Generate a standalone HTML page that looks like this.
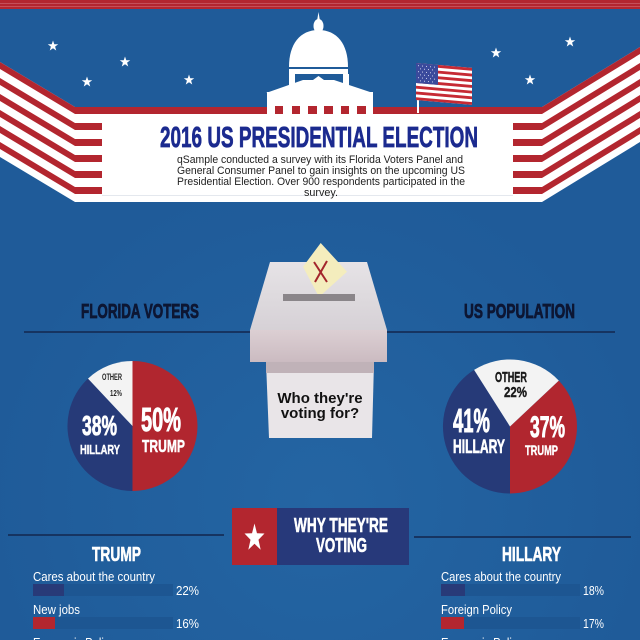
<!DOCTYPE html>
<html><head><meta charset="utf-8"><style>
html,body{margin:0;padding:0;background:#1f5c9a;}
svg{display:block;}
text{font-family:"Liberation Sans",sans-serif;}
</style></head><body>
<svg width="640" height="640" viewBox="0 0 640 640" xmlns="http://www.w3.org/2000/svg">
<defs>
<radialGradient id="bg" cx="320" cy="500" r="330" gradientUnits="userSpaceOnUse">
<stop offset="0" stop-color="#2465a3"/><stop offset="1" stop-color="#1f5b99"/>
</radialGradient>
<linearGradient id="lid" x1="0" y1="0" x2="0" y2="1"><stop offset="0" stop-color="#e6e3e6"/><stop offset="1" stop-color="#d6d1d6"/></linearGradient>
<linearGradient id="front" x1="0" y1="0" x2="0" y2="1"><stop offset="0" stop-color="#dccfd3"/><stop offset="1" stop-color="#cbbbc1"/></linearGradient>
</defs>
<rect width="640" height="640" fill="url(#bg)"/>
<!-- top red band -->
<rect x="0" y="0" width="640" height="9" fill="#b3262f"/>
<rect x="0" y="3" width="640" height="1" fill="#c4505a"/>
<rect x="0" y="6" width="640" height="1" fill="#c4505a"/>
<!-- stars -->
<g fill="#fff">
<polygon transform="translate(53,46) scale(5.5)" points="0,-1 0.235,-0.324 0.951,-0.309 0.38,0.124 0.588,0.809 0,0.4 -0.588,0.809 -0.38,0.124 -0.951,-0.309 -0.235,-0.324"/>
<polygon transform="translate(87,82) scale(5.5)" points="0,-1 0.235,-0.324 0.951,-0.309 0.38,0.124 0.588,0.809 0,0.4 -0.588,0.809 -0.38,0.124 -0.951,-0.309 -0.235,-0.324"/>
<polygon transform="translate(125,62) scale(5.5)" points="0,-1 0.235,-0.324 0.951,-0.309 0.38,0.124 0.588,0.809 0,0.4 -0.588,0.809 -0.38,0.124 -0.951,-0.309 -0.235,-0.324"/>
<polygon transform="translate(189,80) scale(5.5)" points="0,-1 0.235,-0.324 0.951,-0.309 0.38,0.124 0.588,0.809 0,0.4 -0.588,0.809 -0.38,0.124 -0.951,-0.309 -0.235,-0.324"/>
<polygon transform="translate(496,53) scale(5.5)" points="0,-1 0.235,-0.324 0.951,-0.309 0.38,0.124 0.588,0.809 0,0.4 -0.588,0.809 -0.38,0.124 -0.951,-0.309 -0.235,-0.324"/>
<polygon transform="translate(530,80) scale(5.5)" points="0,-1 0.235,-0.324 0.951,-0.309 0.38,0.124 0.588,0.809 0,0.4 -0.588,0.809 -0.38,0.124 -0.951,-0.309 -0.235,-0.324"/>
<polygon transform="translate(570,42) scale(5.5)" points="0,-1 0.235,-0.324 0.951,-0.309 0.38,0.124 0.588,0.809 0,0.4 -0.588,0.809 -0.38,0.124 -0.951,-0.309 -0.235,-0.324"/>
</g>
<!-- banner -->
<polygon fill="#ffffff" points="0,62 75,107 542,107 640,47 640,142 542,202 75,202 0,157"/>
<rect x="102" y="195" width="411" height="1" fill="#e4e8ee"/>
<g fill="#b3262f">
<polygon points="0,62 75,107 542,107 640,47 640,54 542,114 75,114 0,69"/>
<polygon points="0,78 75,123 102,123 102,130 75,130 0,85"/>
<polygon points="0,94 75,139 102,139 102,146 75,146 0,101"/>
<polygon points="0,110 75,155 102,155 102,162 75,162 0,117"/>
<polygon points="0,126 75,171 102,171 102,178 75,178 0,133"/>
<polygon points="0,142 75,187 102,187 102,194 75,194 0,149"/>
<polygon points="513,123 542,123 640,63 640,70 542,130 513,130"/>
<polygon points="513,139 542,139 640,79 640,86 542,146 513,146"/>
<polygon points="513,155 542,155 640,95 640,102 542,162 513,162"/>
<polygon points="513,171 542,171 640,111 640,118 542,178 513,178"/>
<polygon points="513,187 542,187 640,127 640,134 542,194 513,194"/>
</g>
<!-- capitol -->
<g fill="#ffffff">
<polygon points="318.5,12 320,21 317,21"/>
<ellipse cx="318.5" cy="26" rx="5" ry="7"/>
<path d="M289,67 C289,44 300,30 318.5,30 C337,30 348,44 348,67 Z"/>
<rect x="289" y="69" width="59" height="5"/>
<rect x="289" y="74" width="6" height="14"/>
<rect x="343" y="74" width="6" height="14"/>
<polygon points="318.5,76 324,80 334,80 373,93 266,93 303,80 313,80"/>
<rect x="267" y="92" width="106" height="22"/>
</g>
<g fill="#b3262f">
<rect x="275" y="106" width="8" height="8"/><rect x="292" y="106" width="8" height="8"/>
<rect x="308" y="106" width="9" height="8"/><rect x="324" y="106" width="9" height="8"/>
<rect x="341" y="106" width="8" height="8"/><rect x="357" y="106" width="9" height="8"/>
</g>
<!-- flag -->
<rect x="417" y="63" width="2" height="50" fill="#fff"/>
<g transform="translate(416,63) skewY(5)">
<rect x="0" y="0" width="56" height="37" fill="#fff"/>
<g fill="#c62a34">
<rect x="0" y="0" width="56" height="2.85"/><rect x="0" y="5.7" width="56" height="2.85"/>
<rect x="0" y="11.4" width="56" height="2.85"/><rect x="0" y="17.1" width="56" height="2.85"/>
<rect x="0" y="22.8" width="56" height="2.85"/><rect x="0" y="28.5" width="56" height="2.85"/>
<rect x="0" y="34.2" width="56" height="2.8"/>
</g>
<rect x="0" y="0" width="22" height="20" fill="#3a4a9c"/>
<g fill="#c8cde8">
<rect x="2" y="2" width="1" height="1"/><rect x="6" y="2" width="1" height="1"/><rect x="10" y="2" width="1" height="1"/><rect x="14" y="2" width="1" height="1"/><rect x="18" y="2" width="1" height="1"/>
<rect x="4" y="5" width="1" height="1"/><rect x="8" y="5" width="1" height="1"/><rect x="12" y="5" width="1" height="1"/><rect x="16" y="5" width="1" height="1"/>
<rect x="2" y="8" width="1" height="1"/><rect x="6" y="8" width="1" height="1"/><rect x="10" y="8" width="1" height="1"/><rect x="14" y="8" width="1" height="1"/><rect x="18" y="8" width="1" height="1"/>
<rect x="4" y="11" width="1" height="1"/><rect x="8" y="11" width="1" height="1"/><rect x="12" y="11" width="1" height="1"/><rect x="16" y="11" width="1" height="1"/>
<rect x="2" y="14" width="1" height="1"/><rect x="6" y="14" width="1" height="1"/><rect x="10" y="14" width="1" height="1"/><rect x="14" y="14" width="1" height="1"/><rect x="18" y="14" width="1" height="1"/>
<rect x="4" y="17" width="1" height="1"/><rect x="8" y="17" width="1" height="1"/><rect x="12" y="17" width="1" height="1"/><rect x="16" y="17" width="1" height="1"/>
</g>
</g>
<!-- title -->
<text x="160" y="147" font-size="29" font-weight="bold" fill="#1b2a8f" stroke="#1b2a8f" stroke-width="0.7" textLength="318" lengthAdjust="spacingAndGlyphs">2016 US PRESIDENTIAL ELECTION</text>
<g font-size="11" fill="#1e1e1e">
<text x="177" y="163" textLength="286" lengthAdjust="spacingAndGlyphs">qSample conducted a survey with its Florida Voters Panel and</text>
<text x="177" y="174" textLength="288" lengthAdjust="spacingAndGlyphs">General Consumer Panel to gain insights on the upcoming US</text>
<text x="177" y="185" textLength="288" lengthAdjust="spacingAndGlyphs">Presidential Election. Over 900 respondents participated in the</text>
<text x="304" y="196" textLength="34" lengthAdjust="spacingAndGlyphs">survey.</text>
</g>
<!-- middle section headings -->
<rect x="24" y="331" width="591" height="2" fill="#163461"/>
<text x="81" y="318" font-size="20.5" font-weight="bold" fill="#0d1633" stroke="#0d1633" stroke-width="0.8" textLength="118" lengthAdjust="spacingAndGlyphs">FLORIDA VOTERS</text>
<text x="464" y="318" font-size="20.5" font-weight="bold" fill="#0d1633" stroke="#0d1633" stroke-width="0.8" textLength="111" lengthAdjust="spacingAndGlyphs">US POPULATION</text>
<!-- ballot box -->
<polygon points="270,262 367,262 387,330 250,330" fill="url(#lid)"/>
<polygon points="320.7,243 347,271.7 319,297 303,266.7" fill="#f4edbd"/>
<line x1="314" y1="262" x2="327" y2="282" stroke="#a3262c" stroke-width="2"/>
<line x1="327" y1="261" x2="315" y2="282" stroke="#a3262c" stroke-width="2"/>
<rect x="283" y="294" width="72" height="7" fill="#8a8589"/>
<polygon points="266,362 374,362 372,438 269,438" fill="#e9e5e8"/>
<rect x="266" y="362" width="108" height="11" fill="#c0b2b8"/>
<rect x="250" y="330" width="137" height="32" fill="url(#front)"/>
<text x="320" y="403" font-size="15" font-weight="bold" fill="#111" text-anchor="middle">Who they're</text>
<text x="320" y="418" font-size="15" font-weight="bold" fill="#111" text-anchor="middle">voting for?</text>
<!-- pie 1 -->
<path d="M132.5,426 L132.5,361 A65,65 0 0 1 132.5,491 Z" fill="#b1262f"/>
<path d="M132.5,426 L132.5,491 A65,65 0 0 1 88,378.6 Z" fill="#263a78"/>
<path d="M132.5,426 L88,378.6 A65,65 0 0 1 132.5,361 Z" fill="#f3f3f3"/>
<g font-weight="bold">
<text x="102" y="380" font-size="9.6" fill="#222" textLength="20" lengthAdjust="spacingAndGlyphs">OTHER</text>
<text x="110" y="396" font-size="8.5" fill="#222" textLength="12" lengthAdjust="spacingAndGlyphs">12%</text>
<g fill="#fff" stroke="#fff">
<text x="82" y="435" font-size="27.4" stroke-width="0.8" textLength="35" lengthAdjust="spacingAndGlyphs">38%</text>
<text x="80" y="454" font-size="12.5" stroke-width="0.4" textLength="40" lengthAdjust="spacingAndGlyphs">HILLARY</text>
<text x="141" y="431" font-size="33" stroke-width="0.9" textLength="40" lengthAdjust="spacingAndGlyphs">50%</text>
<text x="142" y="452" font-size="17.5" stroke-width="0.5" textLength="43" lengthAdjust="spacingAndGlyphs">TRUMP</text>
</g>
</g>
<!-- pie 2 -->
<path d="M510,426.5 L558.8,380.6 A67,67 0 0 1 510,493.5 Z" fill="#b1262f"/>
<path d="M510,426.5 L510,493.5 A67,67 0 0 1 474.1,369.9 Z" fill="#263a78"/>
<path d="M510,426.5 L474.1,369.9 A67,67 0 0 1 558.8,380.6 Z" fill="#f3f3f3"/>
<g font-weight="bold">
<text x="495" y="382" font-size="15" fill="#1a1a1a" stroke="#1a1a1a" stroke-width="0.4" textLength="32" lengthAdjust="spacingAndGlyphs">OTHER</text>
<text x="504" y="397" font-size="15" fill="#1a1a1a" stroke="#1a1a1a" stroke-width="0.4" textLength="23" lengthAdjust="spacingAndGlyphs">22%</text>
<g fill="#fff" stroke="#fff">
<text x="453" y="432" font-size="33" stroke-width="0.9" textLength="37" lengthAdjust="spacingAndGlyphs">41%</text>
<text x="453" y="453" font-size="19" stroke-width="0.6" textLength="52" lengthAdjust="spacingAndGlyphs">HILLARY</text>
<text x="530" y="437" font-size="30" stroke-width="0.9" textLength="35" lengthAdjust="spacingAndGlyphs">37%</text>
<text x="525" y="455" font-size="14" stroke-width="0.4" textLength="33" lengthAdjust="spacingAndGlyphs">TRUMP</text>
</g>
</g>
<!-- why they're voting badge -->
<rect x="8" y="534" width="216" height="2" fill="#163461"/>
<rect x="414" y="536" width="217" height="2" fill="#163461"/>
<rect x="232" y="508" width="45" height="57" fill="#b3262f"/>
<rect x="277" y="508" width="132" height="57" fill="#27397a"/>
<polygon fill="#fff" transform="translate(254.5,538) scale(10.5,14.5)" points="0,-1 0.235,-0.324 0.951,-0.309 0.38,0.124 0.588,0.809 0,0.4 -0.588,0.809 -0.38,0.124 -0.951,-0.309 -0.235,-0.324"/>
<g font-size="20.5" font-weight="bold" fill="#fff" stroke="#fff" stroke-width="0.6">
<text x="294" y="532" textLength="94" lengthAdjust="spacingAndGlyphs">WHY THEY'RE</text>
<text x="316" y="552" textLength="51" lengthAdjust="spacingAndGlyphs">VOTING</text>
<text x="92" y="561" textLength="49" lengthAdjust="spacingAndGlyphs">TRUMP</text>
<text x="502" y="561" textLength="59" lengthAdjust="spacingAndGlyphs">HILLARY</text>
</g>
<!-- lists -->
<g>
<rect x="33" y="584" width="140" height="12" fill="#1d5692"/>
<rect x="33" y="584" width="31" height="12" fill="#283a78"/>
<rect x="33" y="617" width="140" height="12" fill="#1d5692"/>
<rect x="33" y="617" width="22" height="12" fill="#b3262f"/>
<rect x="441" y="584" width="139" height="12" fill="#1d5692"/>
<rect x="441" y="584" width="24" height="12" fill="#283a78"/>
<rect x="441" y="617" width="139" height="12" fill="#1d5692"/>
<rect x="441" y="617" width="23" height="12" fill="#b3262f"/>
</g>
<g font-size="12.5" fill="#fff">
<text x="33" y="581" textLength="122" lengthAdjust="spacingAndGlyphs">Cares about the country</text>
<text x="33" y="614" textLength="47" lengthAdjust="spacingAndGlyphs">New jobs</text>
<text x="33" y="647" textLength="82" lengthAdjust="spacingAndGlyphs">Economic Policy</text>
<text x="176" y="595" textLength="23" lengthAdjust="spacingAndGlyphs">22%</text>
<text x="176" y="628" textLength="23" lengthAdjust="spacingAndGlyphs">16%</text>
<text x="441" y="581" textLength="120" lengthAdjust="spacingAndGlyphs">Cares about the country</text>
<text x="441" y="614" textLength="71" lengthAdjust="spacingAndGlyphs">Foreign Policy</text>
<text x="441" y="647" textLength="82" lengthAdjust="spacingAndGlyphs">Economic Policy</text>
<text x="583" y="595" textLength="21" lengthAdjust="spacingAndGlyphs">18%</text>
<text x="583" y="628" textLength="21" lengthAdjust="spacingAndGlyphs">17%</text>
</g>
</svg>
</body></html>
